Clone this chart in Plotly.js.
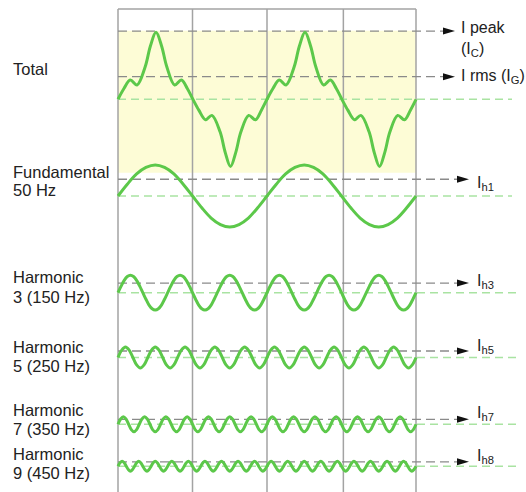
<!DOCTYPE html>
<html><head><meta charset="utf-8">
<script src="https://cdn.plot.ly/plotly-3.0.1.min.js"></script>
<style>html,body{margin:0;padding:0;background:#fff}#chart{width:526px;height:492px}</style>
</head><body><div id="chart"></div>
<script>
// ---------------- data ----------------
// time in ms (50 Hz -> 20 ms per cycle), values in arbitrary current units (fundamental peak = 100)
const leftLabels = [['Total'], ['Fundamental', '50 Hz'], ['Harmonic', '3 (150 Hz)'],
                    ['Harmonic', '5 (250 Hz)'], ['Harmonic', '7 (350 Hz)'], ['Harmonic', '9 (450 Hz)']];
const harmonicOrders = [1, 3, 5, 7, 9];

const totalTime = [0, 0.8, 1.65, 2.55, 3.65, 4.35, 5.1, 5.85, 6.55, 7.6, 8.5, 9.3, 10.05,
                   10.85, 11.75, 12.6, 13.7, 14.4, 15.1, 15.8, 16.5, 17.55, 18.45, 19.25, 20,
                   20.8, 21.65, 22.55, 23.65, 24.35, 25.1, 25.85, 26.55, 27.6, 28.5, 29.3, 30.05,
                   30.85, 31.75, 32.6, 33.7, 34.4, 35.1, 35.8, 36.5, 37.55, 38.45, 39.25, 40];
const totalValue = [0, 35, 62, 46, 105, 172, 216, 172, 105, 46, 62, 35, 0,
                    -35, -66, -52, -105, -172, -217, -172, -105, -52, -66, -35, 0,
                    35, 62, 46, 105, 172, 216, 172, 105, 46, 62, 35, 0,
                    -35, -66, -52, -105, -172, -217, -172, -105, -52, -66, -35, 0];

// sampled every 1/16 cycle of its own frequency
const fundamentalValue = [
  0, 38, 71, 92, 100, 92, 71, 38, 0, -38, -71, -92, -100, -92, -71, -38,
  0, 38, 71, 92, 100, 92, 71, 38, 0, -38, -71, -92, -100, -92, -71, -38,
  0];
const h3Value = [
  0, 21, 40, 52, 56, 52, 40, 21, 0, -21, -40, -52, -56, -52, -40, -21,
  0, 21, 40, 52, 56, 52, 40, 21, 0, -21, -40, -52, -56, -52, -40, -21,
  0, 21, 40, 52, 56, 52, 40, 21, 0, -21, -40, -52, -56, -52, -40, -21,
  0, 21, 40, 52, 56, 52, 40, 21, 0, -21, -40, -52, -56, -52, -40, -21,
  0, 21, 40, 52, 56, 52, 40, 21, 0, -21, -40, -52, -56, -52, -40, -21,
  0, 21, 40, 52, 56, 52, 40, 21, 0, -21, -40, -52, -56, -52, -40, -21,
  0];
// sampled every 1/8 cycle of its own frequency
const h5Value = [
  0, 24, 34, 24, 0, -24, -34, -24,  0, 24, 34, 24, 0, -24, -34, -24,
  0, 24, 34, 24, 0, -24, -34, -24,  0, 24, 34, 24, 0, -24, -34, -24,
  0, 24, 34, 24, 0, -24, -34, -24,  0, 24, 34, 24, 0, -24, -34, -24,
  0, 24, 34, 24, 0, -24, -34, -24,  0, 24, 34, 24, 0, -24, -34, -24,
  0, 24, 34, 24, 0, -24, -34, -24,  0, 24, 34, 24, 0, -24, -34, -24,
  0];
const h7Value = [
  0, 17, 24, 17, 0, -17, -24, -17,  0, 17, 24, 17, 0, -17, -24, -17,
  0, 17, 24, 17, 0, -17, -24, -17,  0, 17, 24, 17, 0, -17, -24, -17,
  0, 17, 24, 17, 0, -17, -24, -17,  0, 17, 24, 17, 0, -17, -24, -17,
  0, 17, 24, 17, 0, -17, -24, -17,  0, 17, 24, 17, 0, -17, -24, -17,
  0, 17, 24, 17, 0, -17, -24, -17,  0, 17, 24, 17, 0, -17, -24, -17,
  0, 17, 24, 17, 0, -17, -24, -17,  0, 17, 24, 17, 0, -17, -24, -17,
  0, 17, 24, 17, 0, -17, -24, -17,  0, 17, 24, 17, 0, -17, -24, -17,
  0];
const h9Value = [
  0, 11, 16, 11, 0, -11, -16, -11,  0, 11, 16, 11, 0, -11, -16, -11,
  0, 11, 16, 11, 0, -11, -16, -11,  0, 11, 16, 11, 0, -11, -16, -11,
  0, 11, 16, 11, 0, -11, -16, -11,  0, 11, 16, 11, 0, -11, -16, -11,
  0, 11, 16, 11, 0, -11, -16, -11,  0, 11, 16, 11, 0, -11, -16, -11,
  0, 11, 16, 11, 0, -11, -16, -11,  0, 11, 16, 11, 0, -11, -16, -11,
  0, 11, 16, 11, 0, -11, -16, -11,  0, 11, 16, 11, 0, -11, -16, -11,
  0, 11, 16, 11, 0, -11, -16, -11,  0, 11, 16, 11, 0, -11, -16, -11,
  0, 11, 16, 11, 0, -11, -16, -11,  0, 11, 16, 11, 0, -11, -16, -11,
  0, 11, 16, 11, 0, -11, -16, -11,  0, 11, 16, 11, 0, -11, -16, -11,
  0];

const totalLevels = [220, 73];          // I peak, I rms
const harmonicLevels = [54, 31, 21, 16, 14];
const levelLabels = ['I peak', '(I<sub>C</sub>)', 'I rms (I<sub>G</sub>)',
                     'I<sub>h1</sub>', 'I<sub>h3</sub>', 'I<sub>h5</sub>', 'I<sub>h7</sub>', 'I<sub>h8</sub>'];
const gridTimes = [0, 10, 20, 30.25, 40];

// ---------------- layout geometry ----------------
const W = 526, H = 492;
const PX0 = 118, PX_PER_MS = 7.45, KPX = 0.31;   // px per current unit
const px2t = px => (px - PX0) / PX_PER_MS;
const py2p = py => 1 - py / H;
const baselinePx = [99.3, 196, 292.7, 357.5, 424.3, 466.2];
const halfPx = [85, 40, 25, 18, 14, 12];

const GREEN = '#5cc84a', LIGHTGREEN = '#a9e3a2', GREY = '#8a8a8a', FRAME = '#a3a3a3', TXT = '#222';
const FONT = 'Liberation Sans, Arial, sans-serif';

const timesFor = (vals, order, perCycle) => vals.map((_, i) => i * 20 / (order * perCycle));
const waveSeries = [
  {x: totalTime, y: totalValue},
  {x: timesFor(fundamentalValue, harmonicOrders[0], 16), y: fundamentalValue},
  {x: timesFor(h3Value, harmonicOrders[1], 16), y: h3Value},
  {x: timesFor(h5Value, harmonicOrders[2], 8), y: h5Value},
  {x: timesFor(h7Value, harmonicOrders[3], 8), y: h7Value},
  {x: timesFor(h9Value, harmonicOrders[4], 8), y: h9Value}
];

const layout = {
  width: W, height: H, margin: {l: 0, r: 0, t: 0, b: 0},
  paper_bgcolor: '#fff', plot_bgcolor: 'rgba(0,0,0,0)', showlegend: false,
  xaxis: {range: [px2t(0), px2t(W)], visible: false, fixedrange: true},
  shapes: [], annotations: []
};
const traces = [];
const yNames = ['y', 'y2', 'y3', 'y4', 'y5', 'y6'];
waveSeries.forEach((s, i) => {
  const key = i === 0 ? 'yaxis' : 'yaxis' + (i + 1);
  const b = baselinePx[i], h = halfPx[i];
  layout[key] = {domain: [py2p(b + h), py2p(b - h)], range: [-h / KPX, h / KPX],
                 visible: false, fixedrange: true, anchor: 'x'};
  traces.push({type: 'scatter', mode: 'lines', x: s.x, y: s.y, xaxis: 'x', yaxis: yNames[i],
               line: {color: GREEN, width: 3, shape: 'spline', smoothing: 1},
               hoverinfo: 'skip'});
});

// yellow band + frame
layout.shapes.push({type: 'rect', xref: 'x', yref: 'paper', x0: 0, x1: 40,
  y0: py2p(172.7), y1: py2p(30.7), fillcolor: '#fdfcd6', line: {width: 0}, layer: 'below'});
gridTimes.forEach(t => layout.shapes.push({type: 'line', xref: 'x', yref: 'paper',
  x0: t, x1: t, y0: 0, y1: py2p(9), line: {color: FRAME, width: 1.5}, layer: 'below'}));
layout.shapes.push({type: 'line', xref: 'x', yref: 'paper', x0: 0, x1: 40,
  y0: py2p(9), y1: py2p(9), line: {color: FRAME, width: 1.5}, layer: 'below'});

// baselines (light green) and levels (grey with arrow)
const greenEnd = [512, 512, 521, 521, 521, 521];
yNames.forEach((ya, i) => layout.shapes.push({type: 'line', xref: 'x', yref: ya,
  x0: 0, x1: px2t(greenEnd[i]), y0: 0, y1: 0,
  line: {color: LIGHTGREEN, width: 1.5, dash: '8px,5px'}, layer: 'below'}));

const levelDefs = [
  {ya: 'y', v: totalLevels[0], tip: 455},
  {ya: 'y', v: totalLevels[1], tip: 455},
  {ya: 'y2', v: harmonicLevels[0], tip: 469},
  {ya: 'y3', v: harmonicLevels[1], tip: 469},
  {ya: 'y4', v: harmonicLevels[2], tip: 469},
  {ya: 'y5', v: harmonicLevels[3], tip: 469},
  {ya: 'y6', v: harmonicLevels[4], tip: 469}
];
levelDefs.forEach(d => {
  layout.shapes.push({type: 'line', xref: 'x', yref: d.ya, x0: 0, x1: px2t(d.tip - 11),
    y0: d.v, y1: d.v, line: {color: GREY, width: 1.3, dash: '9px,5px'}, layer: 'below'});
  layout.shapes.push({type: 'path', xref: 'x', yref: d.ya, xsizemode: 'pixel', ysizemode: 'pixel',
    xanchor: px2t(d.tip), yanchor: d.v, path: 'M-12,3.5L0,0L-12,-3.5Z',
    fillcolor: '#111', line: {width: 0}});
});

// left labels
const leftLinePx = [[69.2], [171.7, 190.3], [277, 296.7], [347, 366.3], [410.3, 429], [453.8, 472.5]];
leftLabels.forEach((lines, i) => lines.forEach((txt, j) => layout.annotations.push({
  text: txt, xref: 'paper', yref: 'paper', x: 12 / W, y: py2p(leftLinePx[i][j]),
  xanchor: 'left', yanchor: 'middle', showarrow: false, borderpad: 0,
  font: {family: FONT, size: 16.5, color: TXT}})));

// right labels
const rightPos = [[460, 28], [460, 49.5], [460, 76], [476, 183], [476, 281], [476, 346], [476, 413.3], [476, 456.7]];
levelLabels.forEach((txt, i) => layout.annotations.push({
  text: txt, xref: 'paper', yref: 'paper', x: rightPos[i][0] / W, y: py2p(rightPos[i][1]),
  xanchor: 'left', yanchor: 'middle', showarrow: false, borderpad: 0,
  font: {family: FONT, size: 16, color: TXT}}));

Plotly.newPlot('chart', traces, layout, {staticPlot: true, displayModeBar: false});
</script></body></html>
